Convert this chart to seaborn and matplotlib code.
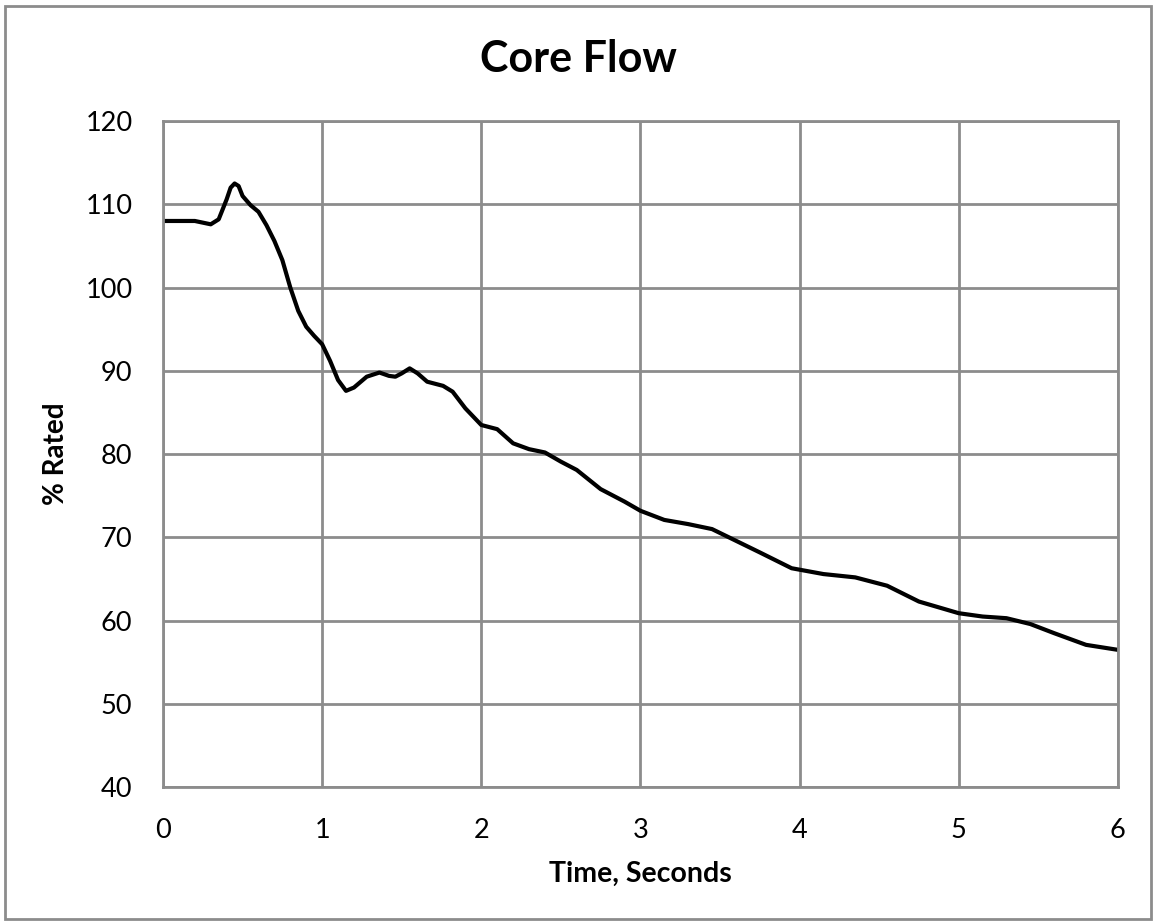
import numpy as np
import pandas as pd
import matplotlib.pyplot as plt
import seaborn as sns
from matplotlib.patches import Rectangle

# values
time_s = [0.0, 0.1, 0.2, 0.25, 0.3, 0.35, 0.4, 0.425, 0.45, 0.475, 0.5,
          0.55, 0.6, 0.65, 0.7, 0.75, 0.8, 0.85, 0.9, 0.95, 1.0, 1.05, 1.1,
          1.15, 1.2, 1.28, 1.36, 1.42, 1.46, 1.5, 1.55, 1.6, 1.66, 1.76,
          1.82, 1.9, 2.0, 2.1, 2.2, 2.3, 2.4, 2.5, 2.6, 2.75, 2.9, 3.0,
          3.15, 3.3, 3.45, 3.6, 3.75, 3.95, 4.15, 4.35, 4.55, 4.75, 5.0,
          5.15, 5.3, 5.45, 5.6, 5.8, 6.0]
core_flow = [108.0, 108.0, 108.0, 107.8, 107.6, 108.2, 110.6, 112.0, 112.5,
             112.2, 111.0, 109.9, 109.1, 107.5, 105.6, 103.3, 100.0, 97.2,
             95.3, 94.2, 93.2, 91.2, 88.9, 87.6, 88.0, 89.3, 89.8, 89.4,
             89.3, 89.7, 90.3, 89.7, 88.7, 88.2, 87.5, 85.5, 83.5, 83.0,
             81.3, 80.6, 80.2, 79.1, 78.1, 75.8, 74.3, 73.2, 72.1, 71.6,
             71.0, 69.6, 68.2, 66.3, 65.6, 65.2, 64.2, 62.3, 60.9, 60.5,
             60.3, 59.6, 58.5, 57.1, 56.5]

df = pd.DataFrame({"Time, Seconds": time_s, "% Rated": core_flow})

sns.set_style("white")
plt.rcParams['font.family'] = ['Lato', 'DejaVu Sans']
plt.rcParams['text.color'] = 'black'
plt.rcParams['axes.labelcolor'] = 'black'
plt.rcParams['xtick.color'] = 'black'
plt.rcParams['ytick.color'] = 'black'

fig = plt.figure(figsize=(11.56, 9.24), dpi=100)
ax = fig.add_axes([0.141, 0.148, 0.826, 0.721])

sns.lineplot(data=df, x="Time, Seconds", y="% Rated", color="black",
             linewidth=3, ax=ax, solid_joinstyle="round",
             solid_capstyle="round")

ax.set_xlim(0, 6)
ax.set_ylim(40, 120)
ax.set_xticks(np.arange(0, 7, 1))
ax.set_yticks(np.arange(40, 121, 10))
ax.tick_params(labelsize=19.5, length=0, pad=22)
ax.grid(True, color="#8c8c8c", linewidth=2)
for s in ax.spines.values():
    s.set_color("#8c8c8c")
    s.set_linewidth(2)

# Excel centres the title on the whole chart area
fig.suptitle("Core Flow", x=0.5, y=1 - 72 / 924, va="baseline",
             fontsize=31, fontweight="bold", color="black")
ax.set_xlabel("Time, Seconds", fontsize=20.5, fontweight="bold", labelpad=13)
ax.set_ylabel("% Rated", fontsize=20, fontweight="bold", labelpad=12)

fig.patches.append(Rectangle((0.004, 0.005), 0.992, 0.988,
                             transform=fig.transFigure, fill=False,
                             edgecolor="#8c8c8c", linewidth=2))

fig.savefig("out.png", dpi=100)
